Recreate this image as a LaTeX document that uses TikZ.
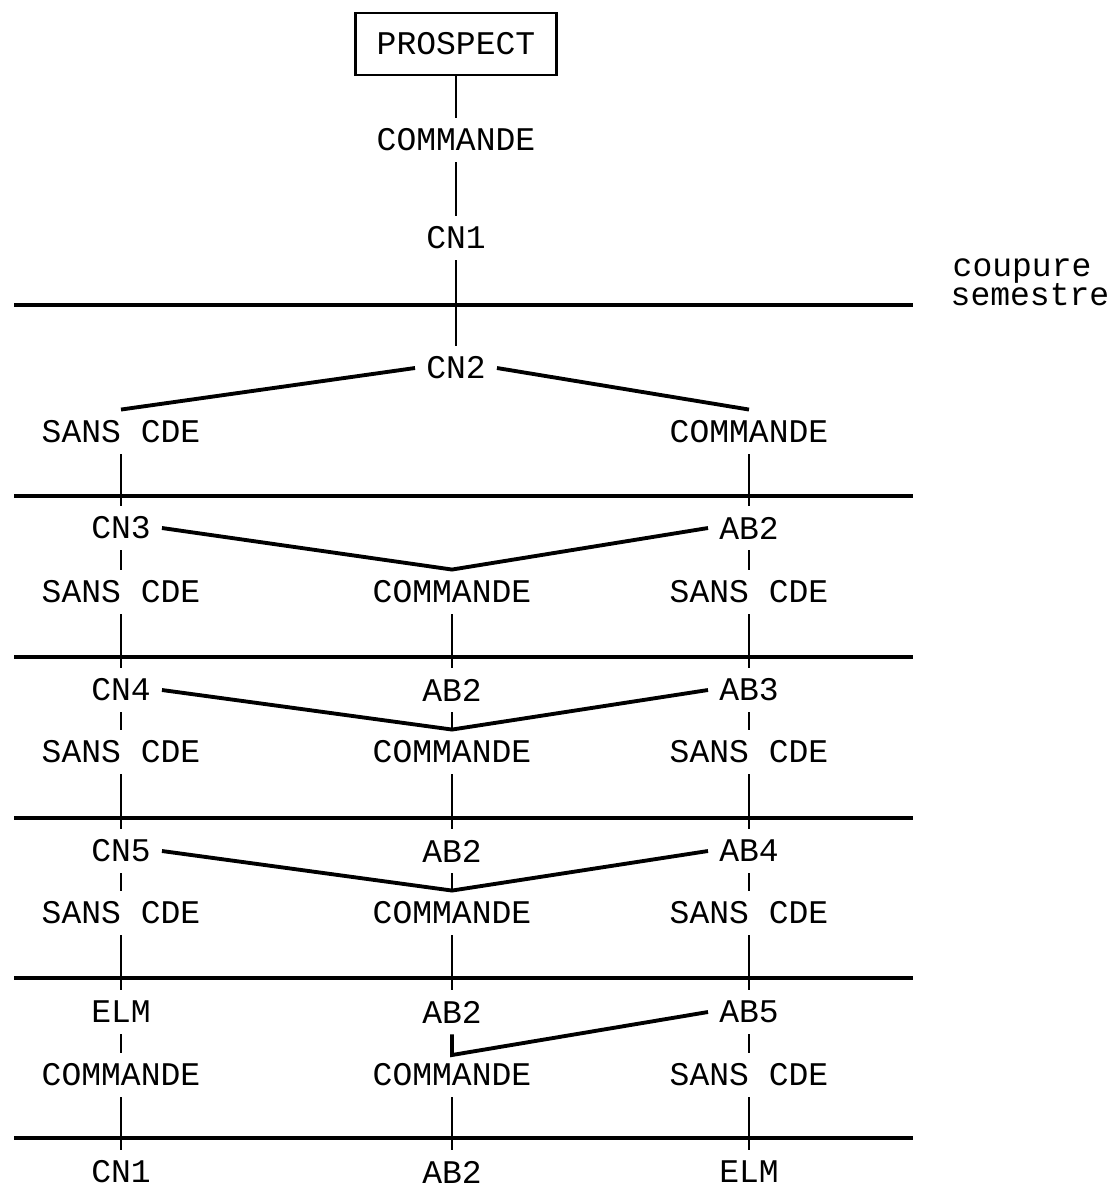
\documentclass[tikz,border=0pt]{standalone}
\usepackage{fontspec}
\setmonofont{Liberation Mono}
\usetikzlibrary{calc}

\begin{document}
\begin{tikzpicture}[x=0.1mm, y=-0.1mm,
		lbl/.style={font=\ttfamily\fontsize{9.4}{10}\selectfont, inner sep=3pt},
		boxlbl/.style={lbl, draw, line width=0.8pt, inner xsep=6pt, minimum height=6.2mm},
		note/.style={font=\ttfamily\fontsize{9.4}{10}\selectfont, inner sep=0pt, anchor=base west},
		link/.style={line width=0.8pt},
		fan/.style={line width=1.1pt},
		cut/.style={line width=0.9pt}]
			%%%%% FRAME %%%%%
			\useasboundingbox (0,0) rectangle (1111,1184);
			
			\foreach \y in {305,496,657,818,978,1138}
				\draw[cut] (14,\y) -- (913,\y);
			
			\node[note] (coupure) at (952,276) {coupure};
			\node[note] (semestre) at (950,305) {semestre};
			
			%%%%% HEAD %%%%%
			\node[boxlbl] (prospect) at (456,44) {PROSPECT};
			\node[lbl] (cmd0) at (456,140) {COMMANDE};
			\node[lbl] (cn1) at (456,238) {CN1};
			\node[lbl] (cn2) at (456,368) {CN2};
			\node[lbl] (sL0) at (121,432) {SANS CDE};
			\node[lbl] (sR0) at (749,432) {COMMANDE};
			
			\draw[link] (prospect) -- (cmd0) -- (cn1) -- (cn2);
			\draw[fan] (cn2.west) -- (sL0.north);
			\draw[fan] (cn2.east) -- (sR0.north);
			
			%%%%% ROWS %%%%%
			\node[lbl] (tL1) at (121,528) {CN3};
			\node[lbl] (tR1) at (749,528) {AB2};
			\node[lbl] (mL1) at (121,592) {SANS CDE};
			\node[lbl] (mM1) at (452,592) {COMMANDE};
			\node[lbl] (mR1) at (749,592) {SANS CDE};
			
			\node[lbl] (tL2) at (121,690) {CN4};
			\node[lbl] (tM2) at (452,690) {AB2};
			\node[lbl] (tR2) at (749,690) {AB3};
			\node[lbl] (mL2) at (121,752) {SANS CDE};
			\node[lbl] (mM2) at (452,752) {COMMANDE};
			\node[lbl] (mR2) at (749,752) {SANS CDE};
			
			\node[lbl] (tL3) at (121,851) {CN5};
			\node[lbl] (tM3) at (452,851) {AB2};
			\node[lbl] (tR3) at (749,851) {AB4};
			\node[lbl] (mL3) at (121,913) {SANS CDE};
			\node[lbl] (mM3) at (452,913) {COMMANDE};
			\node[lbl] (mR3) at (749,913) {SANS CDE};
			
			\node[lbl] (tL4) at (121,1012) {ELM};
			\node[lbl] (tM4) at (452,1012) {AB2};
			\node[lbl] (tR4) at (749,1012) {AB5};
			\node[lbl] (mL4) at (121,1075) {COMMANDE};
			\node[lbl] (mM4) at (452,1075) {COMMANDE};
			\node[lbl] (mR4) at (749,1075) {SANS CDE};
			
			\node[lbl] (tL5) at (121,1172) {CN1};
			\node[lbl] (tM5) at (452,1172) {AB2};
			\node[lbl] (tR5) at (749,1172) {ELM};
			
			\coordinate (k4) at (452,1055);
			
			%%%%% LINKS %%%%%
			\draw[link] (sL0) -- (tL1);
			\draw[link] (sR0) -- (tR1);
			\foreach \r [evaluate=\r as \n using int(\r+1)] in {1,...,4} {
				\draw[link] (tL\r) -- (mL\r) -- (tL\n);
				\draw[link] (tR\r) -- (mR\r) -- (tR\n);
				\draw[link] (mM\r) -- (tM\n);
			}
			
			\draw[fan] (tL1.east) -- (mM1.north) -- (tR1.west);
			\draw[fan] (tL2.east) -- (mM2.north) -- (tR2.west);
			\draw[fan] (tL3.east) -- (mM3.north) -- (tR3.west);
			\draw[link] (tM2) -- (mM2.north);
			\draw[link] (tM3) -- (mM3.north);
			\draw[fan] (tM4) -- (k4) -- (tR4.west);
			
			%%%%% END %%%%%
\end{tikzpicture}
\end{document}
